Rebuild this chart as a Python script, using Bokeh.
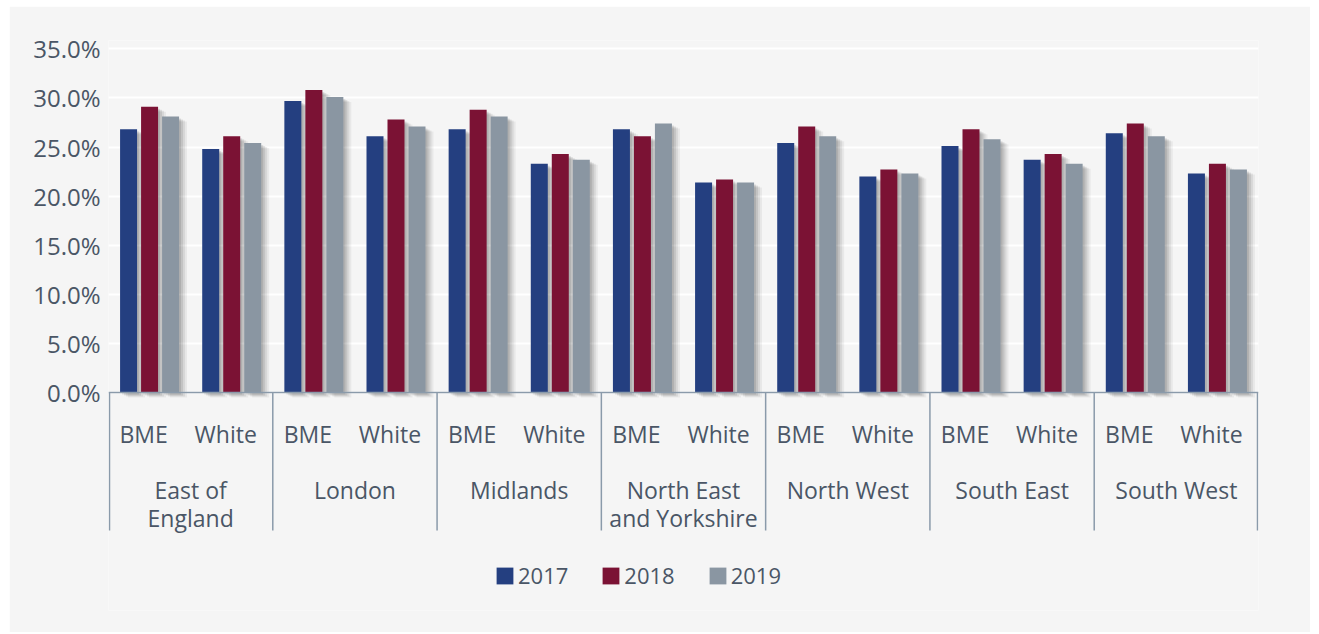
from bokeh.plotting import figure
from bokeh.models import (FactorRange, Range1d, ColumnDataSource, FixedTicker,
                          PrintfTickFormatter, Span, Legend, LegendItem)
from bokeh.transform import dodge
from bokeh.core.properties import value
from bokeh.embed import file_html
from bokeh.resources import INLINE

regions = ["East of\nEngland", "London", "Midlands", "North East\nand Yorkshire",
           "North West", "South East", "South West"]
groups = ["BME", "White"]
years = ["2017", "2018", "2019"]
y2017 = [26.8, 24.8, 29.7, 26.1, 26.8, 23.3, 26.8, 21.4, 25.4, 22.0, 25.1, 23.7, 26.4, 22.3]
y2018 = [29.1, 26.1, 30.8, 27.8, 28.8, 24.3, 26.1, 21.7, 27.1, 22.7, 26.8, 24.3, 27.4, 23.3]
y2019 = [28.1, 25.4, 30.1, 27.1, 28.1, 23.7, 27.4, 21.4, 26.1, 22.3, 25.8, 23.3, 26.1, 22.7]
y_ticks = [0, 5, 10, 15, 20, 25, 30, 35]

colors = ["#243f80", "#7b1234", "#8a96a2"]
TXT = "#4a5666"
AX = "#8a9aaa"
FONT = "Open Sans"
BG = "#f5f5f5"

factors = [(r, g) for r in regions for g in groups]
src = ColumnDataSource(dict(x=factors, y2017=y2017, y2018=y2018, y2019=y2019,
                            sub=[f[1] for f in factors]))

p = figure(width=1301, height=626, output_backend="svg", toolbar_location=None,
           x_range=FactorRange(*factors, factor_padding=0, group_padding=0,
                               subgroup_padding=0, range_padding=0),
           y_range=Range1d(-22.2, 35.85), x_axis_location=None,
           min_border_left=99, min_border_right=52, min_border_top=34,
           min_border_bottom=22)
p.margin = (6, 0, 0, 9)
p.background_fill_color = BG
p.border_fill_color = BG
p.outline_line_color = None

# y axis
p.yaxis.ticker = FixedTicker(ticks=y_ticks)
p.yaxis.formatter = PrintfTickFormatter(format="%.1f%%")
p.yaxis.axis_line_color = None
p.yaxis.major_tick_line_color = None
p.yaxis.minor_tick_line_color = None
p.yaxis.major_label_text_font = FONT
p.yaxis.major_label_text_font_size = "24px"
p.yaxis.major_label_text_color = TXT
p.yaxis.major_label_standoff = 2
p.xgrid.grid_line_color = None
p.ygrid.grid_line_color = "#ffffff"
p.ygrid.grid_line_width = 2
p.ygrid.ticker = FixedTicker(ticks=y_ticks)

unit_px = 1150 / 14.0
ypx = 570 / (35.85 + 22.2)
step = 21 / unit_px
bw = 17 / unit_px
offsets = [-step, 0, step]
cols = ["y2017", "y2018", "y2019"]

# soft drop shadows
for dx, dy, a in [(2, 2, 0.10), (4, 3, 0.09), (6, 4, 0.07), (8, 5, 0.05)]:
    for off, c in zip(offsets, cols):
        p.vbar(x=dodge("x", off + dx / unit_px, range=p.x_range), width=bw,
               top=dodge(c, -dy / ypx), bottom=-dy / ypx, source=src,
               fill_color="black", fill_alpha=a, line_color=None)

renderers = []
for off, c, col in zip(offsets, cols, colors):
    r = p.vbar(x=dodge("x", off, range=p.x_range), width=bw, top=c, bottom=0,
               source=src, fill_color=col, line_color=None)
    renderers.append(r)

# baseline
p.add_layout(Span(location=0, dimension="width", line_color=AX, line_width=1.5))

# group separators
sep_bottom = -(530 - 392) / ypx
bx = [(r, "BME") for r in regions]
boff = [-0.5] * len(regions)
boff[0] = -0.5 + 1 / unit_px
bx.append((regions[-1], "White"))
boff.append(0.5 - 1 / unit_px)
for f, o in zip(bx, boff):
    p.segment(x0=dodge("x", o, range=p.x_range), x1=dodge("x", o, range=p.x_range),
              y0=0, y1=sep_bottom, source=ColumnDataSource(dict(x=[f])),
              line_color=AX, line_width=1.5)

# sub labels
p.text(x=dodge("x", -6 / unit_px, range=p.x_range), y=-(433 - 392) / ypx, text="sub",
       source=src, text_font=value(FONT), text_font_size="23px", text_color=TXT,
       text_align="center", text_baseline="middle")

# region labels
rsrc = ColumnDataSource(dict(x=[(r, "BME") for r in regions], t=regions))
p.text(x=dodge("x", 0.5, range=p.x_range), y=-(473.5 - 392) / ypx, text="t",
       source=rsrc, text_font=value(FONT), text_font_size="23px", text_color=TXT,
       text_align="center", text_baseline="top", text_line_height=0.87)

legend = Legend(items=[LegendItem(label=y, renderers=[r]) for y, r in zip(years, renderers)],
                orientation="horizontal", location=(386, 20), padding=0, margin=0,
                spacing=32, glyph_width=21, glyph_height=21, label_standoff=3,
                background_fill_alpha=0, border_line_color=None,
                label_text_font=FONT, label_text_font_size="22px",
                label_text_color=TXT, label_height=16)
p.add_layout(legend, "center")

open("out.html", "w").write(file_html(p, INLINE))
